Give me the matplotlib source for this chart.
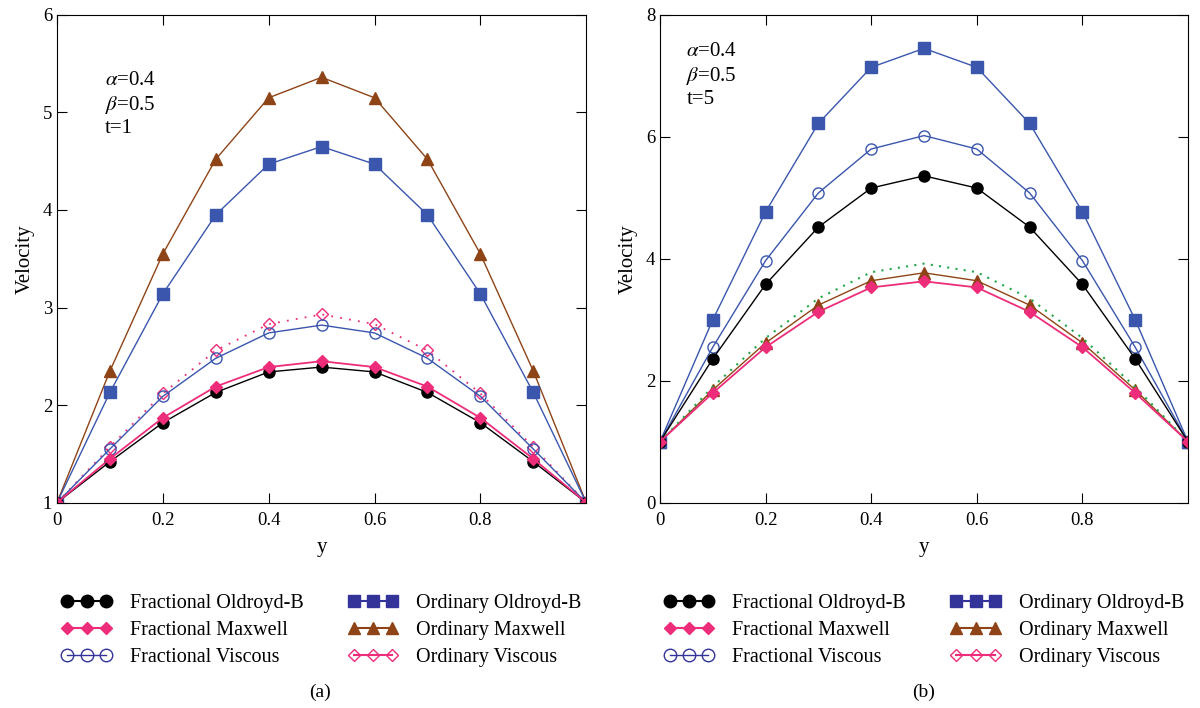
import numpy as np
import matplotlib.pyplot as plt
from matplotlib.lines import Line2D

plt.rcParams['font.family'] = ['Liberation Serif', 'DejaVu Serif']
plt.rcParams['mathtext.fontset'] = 'stix'

y = [0, 0.1, 0.2, 0.3, 0.4, 0.5, 0.6, 0.7, 0.8, 0.9, 1.0]

# panel (a), t=1
a_frac_oldroyd = [1, 1.42, 1.82, 2.13, 2.34, 2.39, 2.34, 2.13, 1.82, 1.42, 1]
a_frac_maxwell = [1, 1.45, 1.87, 2.19, 2.39, 2.45, 2.39, 2.19, 1.87, 1.45, 1]
a_frac_viscous = [1, 1.55, 2.09, 2.48, 2.74, 2.82, 2.74, 2.48, 2.09, 1.55, 1]
a_ord_oldroyd = [1, 2.13, 3.14, 3.95, 4.47, 4.65, 4.47, 3.95, 3.14, 2.13, 1]
a_ord_maxwell = [1, 2.35, 3.55, 4.52, 5.15, 5.36, 5.15, 4.52, 3.55, 2.35, 1]
a_ord_viscous = [1, 1.57, 2.12, 2.56, 2.83, 2.93, 2.83, 2.56, 2.12, 1.57, 1]

# panel (b), t=5
b_frac_oldroyd = [1, 2.36, 3.58, 4.52, 5.16, 5.36, 5.16, 4.52, 3.58, 2.36, 1]
b_frac_maxwell = [1, 1.80, 2.55, 3.13, 3.53, 3.63, 3.53, 3.13, 2.55, 1.80, 1]
b_frac_viscous = [1, 2.55, 3.97, 5.08, 5.80, 6.02, 5.80, 5.08, 3.97, 2.55, 1]
b_ord_oldroyd = [1, 3.00, 4.77, 6.22, 7.14, 7.45, 7.14, 6.22, 4.77, 3.00, 1]
b_ord_maxwell = [1, 1.85, 2.62, 3.24, 3.64, 3.77, 3.64, 3.24, 2.62, 1.85, 1]
b_ord_viscous = [1, 1.90, 2.70, 3.35, 3.78, 3.92, 3.78, 3.35, 2.70, 1.90, 1]

labels = ['Fractional Oldroyd-B', 'Fractional Maxwell', 'Fractional Viscous',
          'Ordinary Oldroyd-B', 'Ordinary Maxwell', 'Ordinary Viscous']

BLACK = 'black'
PINK = '#ee2d7a'
BLUE = '#3a56ad'
INDIGO = '#33339a'
BROWN = '#8e4416'
GREEN = '#22a84a'

fig = plt.figure(figsize=(12, 7.08), dpi=100)
ax1 = fig.add_axes([0.0475, 0.29, 0.441, 0.689])
ax2 = fig.add_axes([0.55, 0.29, 0.44, 0.689])


def draw(ax, fo, fm, fv, oo, om, ov, green_viscous):
    ax.plot(y, om, color=BROWN, lw=1, marker='^', ms=8)
    ax.plot(y, oo, color=BLUE, lw=1, marker='s', ms=8)
    if green_viscous:
        ax.plot(y, ov, color=GREEN, lw=1.5, ls=(0, (1, 3)))
    else:
        ax.plot(y, ov, color=PINK, lw=1.3, ls=(0, (1, 4)), marker='D', ms=6,
                mfc='none', mec=PINK, mew=1)
    ax.plot(y, fv, color=BLUE, lw=1, marker='o', ms=8, mfc='none', mec=BLUE, mew=1)
    ax.plot(y, fo, color=BLACK, lw=1, marker='o', ms=8)
    ax.plot(y, fm, color=PINK, lw=1.3, marker='D', ms=6)
    ax.set_xlim(0, 1)
    ax.set_xticks([0, 0.2, 0.4, 0.6, 0.8])
    ax.set_xticklabels(['0', '0.2', '0.4', '0.6', '0.8'])
    ax.tick_params(direction='in', top=True, right=True, length=7, labelsize=13.5)
    ax.tick_params(axis='x', pad=7)
    ax.set_xlabel('y', fontsize=15, labelpad=6)
    ax.set_ylabel('Velocity', fontsize=15, labelpad=6)
    handles = [
        Line2D([], [], color=BLACK, marker='o', ms=9),
        Line2D([], [], color=PINK, marker='D', ms=6),
        Line2D([], [], color=INDIGO, marker='o', ms=9, mfc='none', lw=1),
        Line2D([], [], color=INDIGO, marker='s', ms=9, lw=1.5),
        Line2D([], [], color=BROWN, marker='^', ms=9),
        Line2D([], [], color=PINK, marker='D', ms=6, mfc='none'),
    ]
    ax.legend(handles, labels, loc='upper center', bbox_to_anchor=(0.5, -0.15),
              ncol=2, frameon=False, numpoints=3, handlelength=2.5,
              fontsize=14.5, columnspacing=2.2, labelspacing=0.38, handletextpad=0.9)


draw(ax1, a_frac_oldroyd, a_frac_maxwell, a_frac_viscous,
     a_ord_oldroyd, a_ord_maxwell, a_ord_viscous, False)
ax1.set_ylim(1, 6)
ax1.text(0.09, 0.885, '$\\alpha$=0.4\n$\\beta$=0.5\nt=1', transform=ax1.transAxes,
         fontsize=15, va='top', linespacing=1.25)

draw(ax2, b_frac_oldroyd, b_frac_maxwell, b_frac_viscous,
     b_ord_oldroyd, b_ord_maxwell, b_ord_viscous, True)
ax2.set_ylim(0, 8)
ax2.set_yticks([0, 2, 4, 6, 8])
ax2.text(0.05, 0.945, '$\\alpha$=0.4\n$\\beta$=0.5\nt=5', transform=ax2.transAxes,
         fontsize=15, va='top', linespacing=1.25)

fig.text(0.267, 0.016, '(a)', ha='center', fontsize=14)
fig.text(0.77, 0.016, '(b)', ha='center', fontsize=14)

fig.savefig('out.png', dpi=100)
